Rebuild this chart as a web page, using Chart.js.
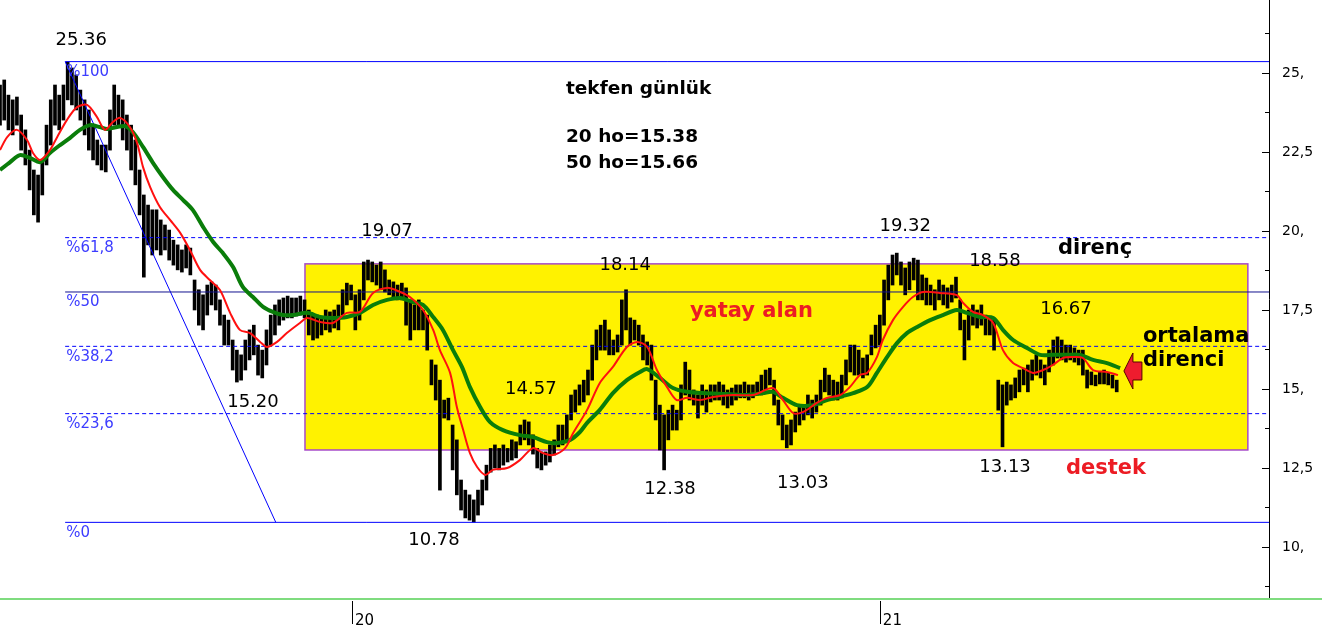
<!DOCTYPE html>
<html>
<head>
<meta charset="utf-8">
<script src="https://cdn.jsdelivr.net/npm/chart.js@4/dist/chart.umd.min.js"></script>
<style>
  html, body { margin: 0; padding: 0; background: #fff; }
  #wrap { width: 1322px; height: 626px; position: relative; }
</style>
</head>
<body>
<div id="wrap"><canvas id="c"></canvas></div>
<script>
// one bar = two trading days, index 0 = left edge of the picture
const barHigh = [
  24.62,24.78,24.30,24.15,24.24,23.67,23.20,22.56,21.93,21.77,
  22.25,23.35,24.15,24.62,24.30,24.62,25.35,25.16,24.94,24.46,
  24.15,23.83,23.35,22.88,22.72,22.72,23.83,24.62,24.30,24.15,
  23.67,23.35,22.88,21.93,21.14,20.82,20.67,20.67,20.35,20.19,
  20.03,19.71,19.56,19.40,19.56,19.46,18.45,18.14,17.98,18.29,
  18.39,18.29,17.82,17.34,17.18,16.55,16.23,16.08,16.55,16.87,
  17.02,16.39,16.23,16.87,17.34,17.66,17.82,17.88,17.94,17.88,
  17.88,17.94,17.82,17.50,17.34,17.34,17.25,17.50,17.44,17.50,
  17.66,18.14,18.35,18.29,17.98,18.14,19.02,19.08,19.02,18.92,
  19.02,18.77,18.45,18.39,18.29,18.35,18.20,17.82,17.66,17.82,
  17.50,17.34,15.92,15.76,15.28,14.65,14.71,13.86,13.39,12.12,
  11.80,11.65,11.49,11.80,12.12,12.59,13.12,13.23,13.12,13.23,
  13.12,13.39,13.33,13.86,14.02,13.96,13.55,13.12,13.01,13.01,
  13.23,13.39,13.86,13.86,14.18,14.81,14.97,15.13,15.28,15.60,
  16.39,16.87,17.02,17.18,16.87,16.55,16.71,17.82,18.14,17.25,
  17.18,17.02,16.71,16.49,16.39,15.28,14.49,14.18,14.33,14.49,
  14.33,15.13,15.85,15.60,14.97,14.81,15.13,14.97,15.13,15.13,
  15.22,15.13,14.97,15.03,15.13,15.13,15.22,15.13,15.13,15.22,
  15.44,15.60,15.66,15.28,14.65,14.18,13.86,14.02,14.27,14.49,
  14.49,14.81,14.65,14.81,15.28,15.66,15.44,15.28,15.22,15.44,
  15.92,16.39,16.39,16.23,15.98,16.08,16.71,17.02,17.34,18.45,
  18.92,19.24,19.30,19.02,18.83,19.02,19.14,19.08,18.61,18.51,
  18.29,18.14,18.45,18.29,18.20,18.29,18.54,17.82,17.18,17.50,
  17.66,17.50,17.66,17.34,17.25,17.18,15.28,15.13,15.22,15.13,
  15.35,15.60,15.66,15.76,15.92,16.08,15.92,15.76,16.23,16.55,
  16.65,16.55,16.39,16.39,16.30,16.23,16.23,15.60,15.54,15.44,
  15.54,15.60,15.51,15.44,15.28
];
const barLow = [
  23.35,23.51,23.20,23.04,23.35,22.56,22.09,21.30,20.51,20.28,
  21.14,22.09,22.72,23.35,23.20,23.51,24.15,23.99,23.83,23.51,
  23.04,22.56,22.25,22.09,21.93,21.87,22.56,23.35,23.35,22.88,
  22.56,21.93,21.46,20.51,18.54,19.56,19.24,19.40,19.24,19.40,
  19.08,18.92,18.77,18.70,18.83,18.61,17.50,17.02,16.87,17.34,
  17.66,17.50,17.02,16.39,16.39,15.60,15.22,15.28,15.60,15.92,
  16.08,15.44,15.35,15.76,16.39,16.71,17.02,17.18,17.25,17.25,
  17.31,17.34,17.25,16.71,16.55,16.61,16.71,16.87,16.80,16.93,
  16.87,17.34,17.66,17.82,16.87,17.18,17.82,18.45,18.39,18.29,
  18.14,18.07,17.98,17.88,17.82,17.82,17.02,16.55,16.87,16.87,
  16.87,16.23,15.13,14.65,11.80,14.08,14.02,12.44,11.65,11.17,
  10.92,10.85,10.79,11.01,11.33,11.80,12.37,12.50,12.44,12.59,
  12.69,12.75,12.82,13.23,13.39,13.23,12.94,12.50,12.44,12.59,
  12.69,12.91,13.17,13.23,13.39,14.02,14.27,14.49,14.59,14.81,
  15.28,15.92,16.23,16.23,16.08,16.08,16.17,16.39,16.87,16.39,
  16.55,16.39,15.92,15.76,15.28,14.02,13.07,12.44,13.39,13.70,
  13.70,14.02,14.81,14.65,14.49,14.08,14.49,14.27,14.59,14.65,
  14.65,14.49,14.40,14.49,14.65,14.72,14.72,14.65,14.72,14.81,
  14.81,14.97,15.13,14.49,13.86,13.39,13.14,13.23,13.64,13.86,
  14.02,14.18,14.08,14.27,14.49,14.91,14.81,14.65,14.65,14.72,
  15.13,15.54,15.44,15.44,15.35,15.44,16.08,16.30,16.39,17.02,
  17.82,18.29,18.61,18.29,17.98,18.14,18.45,17.82,17.82,17.66,
  17.66,17.50,17.82,17.66,17.56,17.75,17.88,16.87,15.92,16.55,
  17.02,16.93,17.02,16.71,16.71,16.23,14.33,13.17,14.49,14.65,
  14.72,14.91,15.13,14.91,15.28,15.44,15.35,15.13,15.54,15.76,
  15.98,15.92,15.85,15.92,15.85,15.76,15.44,15.03,15.13,15.10,
  15.16,15.16,15.13,15.03,14.91
];

// 20 day average (red)
const ma20X = [0,1.7,4,6.4,7.8,9.5,11.8,13.5,15.8,18.2,20.6,22.9,24.8,26.7,28.4,30.7,32.4,33.8,35.5,37.8,
  40.2,42.6,44.9,47.3,49.6,52,54.4,56.7,59.1,61.5,63.1,65.5,67.8,70.9,72.6,75.7,78.7,82,85.1,88.2,
  91.5,94.6,96.9,100,102.4,104,106.4,108,109.5,111.1,112.8,114.7,116.5,119.9,122.9,126,128.4,130.7,133.6,135.5,
  138.8,141.8,144.9,148.2,150.6,153,155.3,157.7,160,162.4,165.5,168.6,173.3,178,182.7,185.1,187.5,189.8,193.1,195.5,
  198.6,200.9,203.3,205,207.3,208.7,211.1,213.5,215.8,218.2,222.2,226.2,227.7,230,232.4,234.8,237.1,239.5,241.8,244.2,
  246.6,248.9,251.3,253.7,256,258.4,261.7,264.3];
const ma20Y = [22.56,22.97,23.20,22.88,22.47,22.25,22.56,22.97,23.51,23.92,23.99,23.61,23.20,23.45,23.58,23.29,22.79,22.03,21.39,20.76,
  20.35,19.94,19.40,18.77,18.45,18.13,17.41,16.87,16.77,16.49,16.33,16.49,16.77,17.09,17.25,17.12,17.09,17.41,17.44,18.04,
  18.20,18.07,17.91,17.50,16.87,16.23,15.51,14.43,13.70,12.97,12.53,12.28,12.44,12.50,12.75,13.13,12.97,12.91,13.13,13.61,
  14.34,15.19,15.70,16.33,16.49,16.33,15.60,15.06,14.65,14.72,14.65,14.75,14.81,14.81,15.03,14.65,14.24,14.27,14.56,14.72,
  14.81,15.06,15.44,15.51,16.01,16.55,17.18,17.60,17.91,18.07,18.04,17.97,17.72,17.44,17.34,17.09,16.23,15.82,15.66,15.51,
  15.60,15.76,15.98,16.01,15.98,15.60,15.54,15.44];

// 50 day average (green)
const ma50X = [0,2.4,4.7,7.1,9.5,11.8,14.2,16.5,18.9,21.3,23.6,25.3,27.7,29.6,31.4,33.8,36.2,38.5,40.9,43.3,
  45.6,48,50.4,52.7,55.1,57.4,59.8,62.2,64.5,66.9,69.3,72.6,75.7,78.7,82,85.1,88.2,91.5,94.6,97.6,
  100,102.4,104.7,107.1,109.2,111.1,113.5,115.8,118.9,122.9,126,129.3,131.7,134.8,137.1,138.8,141.8,144.9,148.2,151.3,
  153,156,159.1,162.4,166.2,171.9,176.6,180.4,182.7,185.1,188.4,192.2,195.5,199.3,201.7,205,207.3,209.7,212.1,214.4,
  216.8,219.9,222.9,226.2,228.6,231.7,234.8,237.1,239.5,242.8,245.9,248.9,252.2,255.3,258.4,261.7,264.8];
const ma50Y = [21.93,22.18,22.40,22.31,22.18,22.47,22.72,22.94,23.20,23.35,23.29,23.23,23.29,23.32,23.13,22.66,22.15,21.71,21.30,20.98,
  20.66,20.13,19.65,19.30,18.86,18.23,17.91,17.60,17.44,17.34,17.34,17.41,17.28,17.25,17.28,17.41,17.66,17.82,17.88,17.75,
  17.66,17.28,16.87,16.23,15.70,15.06,14.43,13.96,13.70,13.54,13.48,13.32,13.29,13.39,13.64,13.93,14.34,14.87,15.28,15.54,
  15.63,15.35,15.03,14.91,14.87,14.84,14.81,14.87,14.91,14.72,14.49,14.49,14.65,14.78,14.87,15.06,15.51,16.01,16.46,16.77,
  16.96,17.18,17.34,17.50,17.41,17.28,17.25,16.87,16.55,16.30,16.08,16.08,16.08,16.08,15.92,15.82,15.66];

// fibonacci retracement 25.36 -> 10.78
const fibLevels = [25.36, 19.79, 18.07, 16.35, 14.22, 10.78];
const fibNames = ['%100', '%61,8', '%50', '%38,2', '%23,6', '%0'];
const fibFrom = 15.4;
const fibTrendEnd = 65.2;

// horizontal range box: from bar, to bar, low, high
const boxSpan = [72.1, 295, 13.07, 18.96];

const yearTicks = [83.2, 208];
const yearNames = ['20', '21'];
const priceTicks = [10, 12.5, 15, 17.5, 20, 22.5, 25, 27.5];
const minorTicks = [8.75, 11.25, 13.75, 16.25, 18.75, 21.25, 23.75, 26.25];

const noteText = ['25.36', '19.07', '15.20', '10.78', '14.57', '18.14', '12.38', '13.03', '19.32', '18.58', '16.67', '13.13'];
const noteX = [19.2, 91.5, 59.8, 102.6, 125.5, 147.8, 158.4, 189.8, 214, 235.2, 252, 237.6];
const noteY = [26.04, 20.0, 14.59, 10.22, 15.0, 18.92, 11.84, 12.0, 20.16, 19.05, 17.53, 12.53];

const commentText = ['yatay alan', 'direnç', 'destek', 'ortalama', 'direnci'];
const commentX = [163.1, 250.1, 252, 270.2, 270.2];
const commentY = [17.44, 19.46, 12.47, 16.65, 15.89];
const commentRed = [true, false, true, false, false];

const titleLines = ['tekfen günlük', '20 ho=15.38', '50 ho=15.66'];
const titleX = 133.8;
const titleY = [24.49, 22.97, 22.15];

const arrowAt = [265.7, 15.57];

const FONT = 'DejaVu Sans';

function pts(xs, ys) {
  return xs.map((x, i) => ({ x: x, y: ys[i] }));
}

const fibSets = fibLevels.map((lvl, i) => {
  const solid = i === 0 || i === 2 || i === 5;
  return {
    type: 'line',
    data: [{ x: fibFrom, y: lvl }, { x: 300, y: lvl }],
    borderColor: i === 2 ? '#12128f' : '#0000ff',
    borderWidth: 1,
    borderDash: solid ? [] : [4, 3],
    pointRadius: 0,
  };
});

const overlay = {
  id: 'overlay',
  beforeDatasetsDraw(chart) {
    const { ctx, scales: { x, y } } = chart;
    const l = x.getPixelForValue(boxSpan[0]);
    const r = x.getPixelForValue(boxSpan[1]);
    const t = y.getPixelForValue(boxSpan[3]);
    const b = y.getPixelForValue(boxSpan[2]);
    ctx.save();
    ctx.fillStyle = '#fff200';
    ctx.fillRect(l, t, r - l, b - t);
    ctx.strokeStyle = '#a64ac9';
    ctx.lineWidth = 1.5;
    ctx.strokeRect(l, t, r - l, b - t);
    ctx.restore();
  },
  afterDatasetsDraw(chart) {
    const { ctx, scales: { x, y } } = chart;
    ctx.save();

    // fib level names just under each line
    ctx.font = '15px "' + FONT + '"';
    ctx.fillStyle = '#3c3cff';
    ctx.textAlign = 'left';
    ctx.textBaseline = 'top';
    fibLevels.forEach((lvl, i) => {
      ctx.fillText(fibNames[i], x.getPixelForValue(fibFrom) + 1, y.getPixelForValue(lvl) + 3);
    });

    ctx.textBaseline = 'middle';
    ctx.font = '18px "' + FONT + '"';
    ctx.fillStyle = '#000';
    ctx.textAlign = 'center';
    noteText.forEach((s, i) => {
      ctx.fillText(s, x.getPixelForValue(noteX[i]), y.getPixelForValue(noteY[i]));
    });

    ctx.font = 'bold 21px "' + FONT + '"';
    ctx.textAlign = 'left';
    commentText.forEach((s, i) => {
      ctx.fillStyle = commentRed[i] ? '#ec1c24' : '#000';
      ctx.fillText(s, x.getPixelForValue(commentX[i]), y.getPixelForValue(commentY[i]));
    });

    ctx.font = 'bold 18.5px "' + FONT + '"';
    ctx.fillStyle = '#000';
    titleLines.forEach((s, i) => {
      ctx.fillText(s, x.getPixelForValue(titleX), y.getPixelForValue(titleY[i]));
    });

    // red arrow pointing at the averages
    const ax = x.getPixelForValue(arrowAt[0]);
    const ay = y.getPixelForValue(arrowAt[1]);
    ctx.beginPath();
    ctx.moveTo(ax, ay);
    ctx.lineTo(ax + 9, ay - 18);
    ctx.lineTo(ax + 9, ay - 9);
    ctx.lineTo(ax + 18, ay - 9);
    ctx.lineTo(ax + 18, ay + 9);
    ctx.lineTo(ax + 9, ay + 9);
    ctx.lineTo(ax + 9, ay + 18);
    ctx.closePath();
    ctx.fillStyle = '#ee1c2e';
    ctx.fill();
    ctx.strokeStyle = '#5a0000';
    ctx.lineWidth = 1;
    ctx.stroke();
    ctx.restore();
  },
  afterDraw(chart) {
    const { ctx, chartArea: a, scales: { x, y } } = chart;
    ctx.save();
    ctx.strokeStyle = '#000';
    ctx.lineWidth = 1;
    priceTicks.forEach(v => {
      const py = Math.round(y.getPixelForValue(v)) + 0.5;
      ctx.beginPath(); ctx.moveTo(a.right - 7, py); ctx.lineTo(a.right, py); ctx.stroke();
    });
    minorTicks.forEach(v => {
      const py = Math.round(y.getPixelForValue(v)) + 0.5;
      ctx.beginPath(); ctx.moveTo(a.right - 4, py); ctx.lineTo(a.right, py); ctx.stroke();
    });
    yearTicks.forEach(v => {
      const px = Math.round(x.getPixelForValue(v)) + 0.5;
      ctx.beginPath(); ctx.moveTo(px, a.bottom + 3); ctx.lineTo(px, a.bottom + 26); ctx.stroke();
    });
    ctx.strokeStyle = '#7fdc7f';
    ctx.lineWidth = 2;
    ctx.beginPath(); ctx.moveTo(0, a.bottom + 1); ctx.lineTo(chart.width, a.bottom + 1); ctx.stroke();
    ctx.restore();
  }
};

const chart = new Chart(document.getElementById('c'), {
  type: 'bar',
  data: {
    datasets: [
      {
        type: 'line',
        label: '20 ho',
        data: pts(ma20X, ma20Y),
        borderColor: '#ff1010',
        borderWidth: 2,
        pointRadius: 0,
        tension: 0.3,
      },
      {
        type: 'line',
        label: '50 ho',
        data: pts(ma50X, ma50Y),
        borderColor: '#0a7d0a',
        borderWidth: 4,
        pointRadius: 0,
        tension: 0.3,
      },
      ...fibSets,
      {
        type: 'line',
        data: [{ x: fibFrom, y: fibLevels[0] }, { x: fibTrendEnd, y: fibLevels[5] }],
        borderColor: '#0000ff',
        borderWidth: 1,
        pointRadius: 0,
      },
      {
        type: 'bar',
        label: 'tekfen',
        data: barHigh.map((h, i) => ({ x: i, y: [barLow[i], h] })),
        backgroundColor: '#000',
        barThickness: 3,
        grouped: false,
      },
    ],
  },
  options: {
    responsive: true,
    maintainAspectRatio: false,
    animation: false,
    layout: { padding: 0 },
    plugins: { legend: { display: false }, tooltip: { enabled: false } },
    scales: {
      x: {
        type: 'linear',
        min: 0,
        max: 300,
        offset: false,
        grid: { display: false, offset: false },
        border: { display: false },
        afterBuildTicks: axis => axis.ticks = yearTicks.map(v => ({ value: v })),
        afterFit: axis => { axis.height = 28; axis.paddingLeft = 0; axis.paddingRight = 0; },
        ticks: {
          align: 'start',
          padding: 6,
          maxRotation: 0,
          autoSkip: false,
          color: '#000',
          font: { family: FONT, size: 15 },
          callback: (value, index) => '\u2009' + yearNames[index],
        },
      },
      y: {
        position: 'right',
        min: 8.386,
        max: 27.31,
        grid: { display: false },
        border: { display: true, color: '#000', width: 1 },
        afterBuildTicks: axis => axis.ticks = priceTicks.map(v => ({ value: v })),
        afterFit: axis => { axis.width = 53; axis.paddingTop = 0; axis.paddingBottom = 0; },
        ticks: {
          padding: 5,
          color: '#000',
          font: { family: FONT, size: 14 },
          callback: value => Number.isInteger(value) ? value + ',' : String(value).replace('.', ','),
        },
      },
    },
  },
  plugins: [overlay],
});
</script>
</body>
</html>
